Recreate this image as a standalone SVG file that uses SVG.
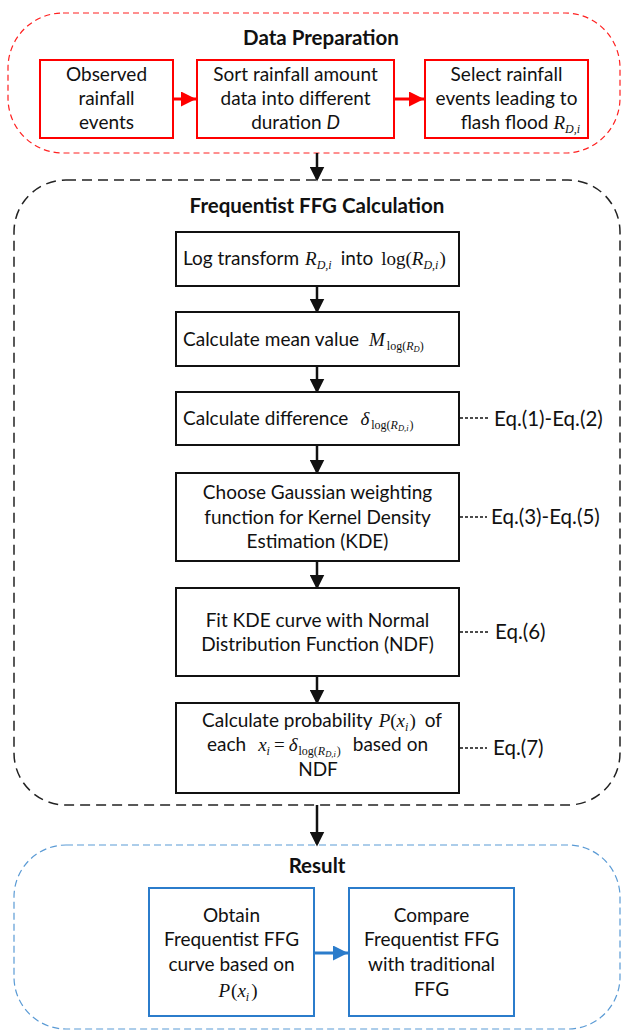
<svg xmlns="http://www.w3.org/2000/svg" width="623" height="1030" viewBox="0 0 623 1030">
<defs>
<style>
.t{font-family:Lato,"Liberation Sans",sans-serif;font-size:19px;fill:#111}
.tb{font-family:Lato,"Liberation Sans",sans-serif;font-size:20.5px;font-weight:bold;fill:#111}
.eq{font-family:Lato,"Liberation Sans",sans-serif;font-size:20.5px;fill:#111}
.m{font-family:"Liberation Serif","Times New Roman",serif;font-size:19px;font-style:normal}
.mi{font-family:"Liberation Serif","Times New Roman",serif;font-size:19px;font-style:italic}
.s{font-family:"Liberation Serif","Times New Roman",serif;font-size:12px;font-style:normal}
.si{font-family:"Liberation Serif","Times New Roman",serif;font-size:12px;font-style:italic}
.ss{font-family:"Liberation Serif","Times New Roman",serif;font-size:8.5px;font-style:italic}
.sn{font-family:Lato,"Liberation Sans",sans-serif;font-size:19px;font-style:normal}
.rb{fill:#fff;stroke:#FF0000;stroke-width:2}
.kb{fill:#fff;stroke:#111;stroke-width:2}
.bb{fill:#fff;stroke:#2B7CCB;stroke-width:2}
.dash{stroke:#111;stroke-width:1.3;stroke-dasharray:3 2;fill:none}
</style>
<marker id="ak" markerWidth="6" markerHeight="6" refX="5" refY="3" orient="auto" markerUnits="strokeWidth"><path d="M0,0 L6,3 L0,6 Z" fill="#111"/></marker>
<marker id="ar" markerWidth="5" markerHeight="5" refX="5" refY="2.5" orient="auto" markerUnits="strokeWidth"><path d="M0,0 L5,2.5 L0,5 Z" fill="#FF0000"/></marker>
<marker id="ab" markerWidth="5" markerHeight="5" refX="5" refY="2.5" orient="auto" markerUnits="strokeWidth"><path d="M0,0 L5,2.5 L0,5 Z" fill="#2B7CCB"/></marker>
</defs>
<rect width="623" height="1030" fill="#fff"/>

<g id="containers">
<rect id="prep" x="8" y="13" width="612" height="140" rx="55" ry="55" fill="none" stroke="#FF2020" stroke-width="1.2" stroke-dasharray="6 4"/>
<text class="tb" x="321" y="45" text-anchor="middle">Data Preparation</text>
<rect id="calc" x="14" y="180" width="606" height="625" rx="52" ry="52" fill="none" stroke="#222" stroke-width="1.5" stroke-dasharray="10 6"/>
<text class="tb" x="317" y="213" text-anchor="middle">Frequentist FFG Calculation</text>
<rect id="result" x="14" y="845" width="606" height="184" rx="52" ry="52" fill="none" stroke="#5B9BD5" stroke-width="1.2" stroke-dasharray="7 4"/>
<text class="tb" x="317" y="873" text-anchor="middle">Result</text>
</g>

<g id="connectors">
<line x1="173" y1="99" x2="196" y2="99" stroke="#FF0000" stroke-width="3" marker-end="url(#ar)"/>
<line x1="394" y1="99" x2="424" y2="99" stroke="#FF0000" stroke-width="3" marker-end="url(#ar)"/>
<line x1="317" y1="153" x2="317" y2="179" stroke="#111" stroke-width="2.5" marker-end="url(#ak)"/>
<line x1="317" y1="286" x2="317" y2="311" stroke="#111" stroke-width="2.5" marker-end="url(#ak)"/>
<line x1="317" y1="366" x2="317" y2="391" stroke="#111" stroke-width="2.5" marker-end="url(#ak)"/>
<line x1="317" y1="445" x2="317" y2="472" stroke="#111" stroke-width="2.5" marker-end="url(#ak)"/>
<line x1="317" y1="561" x2="317" y2="587" stroke="#111" stroke-width="2.5" marker-end="url(#ak)"/>
<line x1="317" y1="676" x2="317" y2="702" stroke="#111" stroke-width="2.5" marker-end="url(#ak)"/>
<line x1="317" y1="805" x2="317" y2="844" stroke="#111" stroke-width="2.5" marker-end="url(#ak)"/>
<line x1="314" y1="953" x2="348" y2="953" stroke="#2B7CCB" stroke-width="3" marker-end="url(#ab)"/>
<line class="dash" x1="460" y1="418" x2="490" y2="418"/>
<line class="dash" x1="460" y1="517" x2="487" y2="517"/>
<line class="dash" x1="460" y1="632" x2="489" y2="632"/>
<line class="dash" x1="460" y1="748" x2="487" y2="748"/>
</g>

<g id="n1">
<rect class="rb" x="40" y="60" width="133" height="78"/>
<text class="t" text-anchor="middle"><tspan x="106.5" y="81">Observed</tspan><tspan x="106.5" y="105">rainfall</tspan><tspan x="106.5" y="129">events</tspan></text>
</g>
<g id="n2">
<rect class="rb" x="197" y="60" width="197" height="78"/>
<text class="t" text-anchor="middle"><tspan x="295.5" y="81">Sort rainfall amount</tspan><tspan x="295.5" y="105">data into different</tspan><tspan x="295.5" y="129">duration <tspan font-style="italic">D</tspan></tspan></text>
</g>
<g id="n3">
<rect class="rb" x="425" y="60" width="163" height="78"/>
<text class="t" text-anchor="middle"><tspan x="506.5" y="81">Select rainfall</tspan><tspan x="506.5" y="105">events leading to</tspan></text>
<text class="t" x="580" y="129" text-anchor="end">flash flood<tspan class="mi" dx="5">R</tspan><tspan class="si" dy="4">D,i</tspan></text>
</g>

<g id="n4">
<rect class="kb" x="176" y="232" width="283" height="54"/>
<text class="t" x="183" y="265">Log transform<tspan class="mi" dx="6">R</tspan><tspan class="si" dy="4">D,i</tspan><tspan class="sn" dy="-4" dx="9">into</tspan><tspan class="m" dx="8">log(</tspan><tspan class="mi">R</tspan><tspan class="si" dy="4">D,i</tspan><tspan class="m" dy="-4" dx="1">)</tspan></text>
</g>
<g id="n5">
<rect class="kb" x="176" y="312" width="283" height="54"/>
<text class="t" x="183" y="346">Calculate mean value<tspan class="mi" dx="10">M</tspan><tspan class="s" dy="4" dx="2">log(</tspan><tspan class="si">R</tspan><tspan class="ss" dy="2">D</tspan><tspan class="s" dy="-2">)</tspan></text>
</g>
<g id="n6">
<rect class="kb" x="176" y="392" width="283" height="53"/>
<text class="t" x="183" y="425">Calculate difference<tspan class="mi" dx="12">δ</tspan><tspan class="s" dy="4" dx="2">log(</tspan><tspan class="si">R</tspan><tspan class="ss" dy="2">D,i</tspan><tspan class="s" dy="-2" dx="1">)</tspan></text>
<text class="eq" x="494" y="426">Eq.(1)-Eq.(2)</text>
</g>
<g id="n7">
<rect class="kb" x="176" y="473" width="283" height="88"/>
<text class="t" text-anchor="middle"><tspan x="317.5" y="499">Choose Gaussian weighting</tspan><tspan x="317.5" y="524">function for Kernel Density</tspan><tspan x="317.5" y="548">Estimation (KDE)</tspan></text>
<text class="eq" x="491" y="524">Eq.(3)-Eq.(5)</text>
</g>
<g id="n8">
<rect class="kb" x="176" y="588" width="283" height="88"/>
<text class="t" text-anchor="middle"><tspan x="317.5" y="627">Fit KDE curve with Normal</tspan><tspan x="317.5" y="651">Distribution Function (NDF)</tspan></text>
<text class="eq" x="495" y="639">Eq.(6)</text>
</g>
<g id="n9">
<rect class="kb" x="176" y="703" width="283" height="90"/>
<text class="t" x="322" y="727" text-anchor="middle">Calculate probability<tspan class="mi" dx="6">P</tspan><tspan class="m">(</tspan><tspan class="mi">x</tspan><tspan class="si" dy="4">i</tspan><tspan class="m" dy="-4" dx="1">)</tspan><tspan class="sn" dx="9">of</tspan></text>
<text class="t" x="317.5" y="751" text-anchor="middle">each<tspan class="mi" dx="12">x</tspan><tspan class="si" dy="4">i</tspan><tspan class="m" dy="-4" dx="4">=</tspan><tspan class="mi" dx="4">δ</tspan><tspan class="s" dy="4" dx="1">log(</tspan><tspan class="si">R</tspan><tspan class="ss" dy="2">D,i</tspan><tspan class="s" dy="-2" dx="1">)</tspan><tspan class="sn" dy="-4" dx="12">based on</tspan></text>
<text class="t" x="318" y="776" text-anchor="middle">NDF</text>
<text class="eq" x="493" y="755">Eq.(7)</text>
</g>

<g id="n10">
<rect class="bb" x="149" y="888" width="165" height="128"/>
<text class="t" text-anchor="middle"><tspan x="231.5" y="922">Obtain</tspan><tspan x="231.5" y="946">Frequentist FFG</tspan><tspan x="231.5" y="971">curve based on</tspan></text>
<text class="t" x="238" y="997" text-anchor="middle"><tspan class="mi" font-size="21">P</tspan><tspan class="m" font-size="21" dx="1">(</tspan><tspan class="mi" font-size="21">x</tspan><tspan class="si" font-size="13" dy="4">i</tspan><tspan class="m" font-size="21" dy="-4" dx="2">)</tspan></text>
</g>
<g id="n11">
<rect class="bb" x="349" y="888" width="165" height="128"/>
<text class="t" text-anchor="middle"><tspan x="431.5" y="922">Compare</tspan><tspan x="431.5" y="946">Frequentist FFG</tspan><tspan x="431.5" y="971">with traditional</tspan><tspan x="431.5" y="996">FFG</tspan></text>
</g>
</svg>
